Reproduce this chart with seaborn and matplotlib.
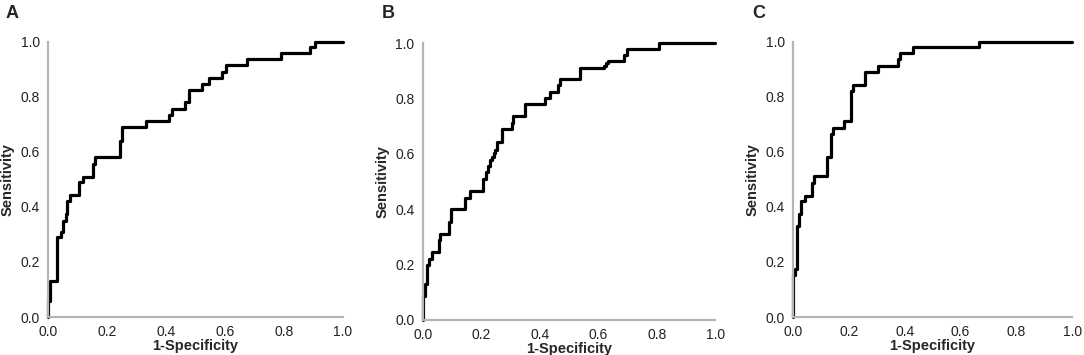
import matplotlib
matplotlib.use("Agg")
import matplotlib.pyplot as plt
import seaborn as sns

# ROC corner points (1-specificity, sensitivity)
a_fpr = [0, 0.006, 0.03, 0.043, 0.05, 0.06, 0.065, 0.073, 0.105, 0.12, 0.152, 0.16,
         0.245, 0.252, 0.333, 0.409, 0.42, 0.463, 0.477, 0.522, 0.545, 0.59, 0.605,
         0.675, 0.791, 0.889, 0.904, 1.0]
a_tpr = [0, 0.06, 0.13, 0.29, 0.31, 0.35, 0.375, 0.42, 0.445, 0.49, 0.51, 0.555,
         0.58, 0.64, 0.69, 0.713, 0.735, 0.757, 0.78, 0.824, 0.846, 0.869, 0.89,
         0.915, 0.936, 0.958, 0.98, 1.0]

b_fpr = [0, 0.007, 0.015, 0.023, 0.03, 0.054, 0.06, 0.091, 0.098, 0.143, 0.163, 0.206,
         0.215, 0.223, 0.23, 0.236, 0.242, 0.248, 0.253, 0.271, 0.305, 0.31, 0.351,
         0.417, 0.434, 0.463, 0.469, 0.537, 0.619, 0.626, 0.633, 0.686, 0.697, 0.808, 1.0]
b_tpr = [0, 0.087, 0.13, 0.2, 0.22, 0.245, 0.29, 0.31, 0.355, 0.4, 0.44, 0.466,
         0.51, 0.535, 0.556, 0.577, 0.59, 0.604, 0.614, 0.644, 0.689, 0.711, 0.738,
         0.78, 0.8, 0.824, 0.847, 0.869, 0.911, 0.918, 0.927, 0.936, 0.957, 0.98, 1.0]

c_fpr = [0, 0.006, 0.014, 0.0215, 0.027, 0.044, 0.067, 0.074, 0.12, 0.136, 0.142,
         0.182, 0.208, 0.214, 0.259, 0.303, 0.376, 0.382, 0.43, 0.665, 1.0]
c_tpr = [0, 0.152, 0.176, 0.33, 0.376, 0.42, 0.44, 0.488, 0.513, 0.58, 0.667,
         0.688, 0.711, 0.822, 0.845, 0.89, 0.913, 0.936, 0.958, 0.98, 1.0]

panel_labels = ["A", "B", "C"]
ticks = [0.0, 0.2, 0.4, 0.6, 0.8, 1.0]
tick_labels = ["0.0", "0.2", "0.4", "0.6", "0.8", "1.0"]

sns.set_style("white")
plt.rcParams["font.family"] = ["Liberation Sans", "DejaVu Sans"]

fig = plt.figure(figsize=(10.84, 3.55), dpi=100)
boxes = [[0.0443, 0.107, 0.272, 0.775],
         [0.390, 0.0986, 0.270, 0.780],
         [0.7316, 0.107, 0.2575, 0.775]]
letter_x = [0.005, 0.352, 0.694]
curves = [(a_fpr, a_tpr), (b_fpr, b_tpr), (c_fpr, c_tpr)]

for box, (fpr, tpr), lab, lx in zip(boxes, curves, panel_labels, letter_x):
    ax = fig.add_axes(box)
    sns.lineplot(x=fpr, y=tpr, ax=ax, color="black", linewidth=2.3,
                 drawstyle="steps-pre", estimator=None, sort=False, clip_on=False)
    ax.set_xlim(0, 1)
    ax.set_ylim(0, 1)
    ax.set_xticks(ticks)
    ax.set_xticklabels(tick_labels)
    ax.set_yticks(ticks)
    ax.set_yticklabels(tick_labels)
    ax.tick_params(length=0, labelsize=10, colors="#222222")
    ax.tick_params(axis="x", pad=6)
    ax.tick_params(axis="y", pad=6)
    for s in ["top", "right"]:
        ax.spines[s].set_visible(False)
    for s in ["left", "bottom"]:
        ax.spines[s].set_color("#b4b4b4")
        ax.spines[s].set_linewidth(1.6)
    ax.set_xlabel("1-Specificity", fontsize=10.5, fontweight="bold", labelpad=0)
    ax.set_ylabel("Sensitivity", fontsize=10.5, fontweight="bold", labelpad=4)
    fig.text(lx, 0.985, lab, fontsize=13, fontweight="bold", ha="left", va="top")

fig.savefig("out.png", dpi=100)
